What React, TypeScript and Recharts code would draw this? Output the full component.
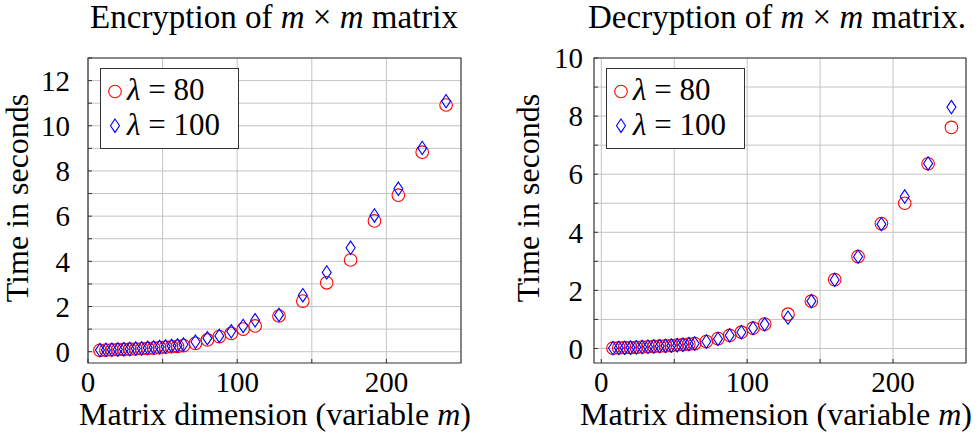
import { ScatterChart, Scatter, XAxis, YAxis, CartesianGrid, ReferenceArea, Legend } from "recharts";

// matrix dimension m
const mValues = [8, 12, 16, 20, 24, 28, 32, 36, 40, 44, 48, 52, 56, 60, 64, 72, 80, 88, 96, 104, 112, 128, 144, 160, 176, 192, 208, 224, 240];

// encryption time (s)
const encLambda80 = [0.06, 0.07, 0.08, 0.09, 0.1, 0.11, 0.12, 0.13, 0.15, 0.16, 0.18, 0.2, 0.22, 0.24, 0.27, 0.37, 0.52, 0.67, 0.81, 1.0, 1.14, 1.58, 2.24, 3.05, 4.06, 5.79, 6.93, 8.83, 10.92];
const encLambda100 = [0.07, 0.08, 0.09, 0.1, 0.11, 0.12, 0.14, 0.15, 0.17, 0.19, 0.21, 0.23, 0.26, 0.28, 0.32, 0.44, 0.6, 0.7, 0.9, 1.14, 1.39, 1.63, 2.5, 3.51, 4.6, 6.03, 7.21, 9.02, 11.09];

// decryption time (s)
const decLambda80 = [0.01, 0.02, 0.03, 0.03, 0.04, 0.05, 0.06, 0.07, 0.08, 0.09, 0.1, 0.12, 0.13, 0.15, 0.17, 0.24, 0.34, 0.45, 0.56, 0.7, 0.84, 1.18, 1.63, 2.37, 3.16, 4.3, 5.0, 6.36, 7.61];
const decLambda100 = [0.01, 0.02, 0.02, 0.03, 0.04, 0.05, 0.06, 0.07, 0.08, 0.09, 0.1, 0.11, 0.13, 0.15, 0.17, 0.24, 0.33, 0.45, 0.56, 0.7, 0.83, 1.06, 1.63, 2.36, 3.16, 4.28, 5.23, 6.37, 8.31];

const xTicks = [0, 50, 100, 150, 200];
const encYTicks = [0, 1, 2, 3, 4, 5, 6, 7, 8, 9, 10, 11, 12, 13];
const decYTicks = [0, 1, 2, 3, 4, 5, 6, 7, 8, 9, 10];

const FONT = "'Liberation Serif', 'Times New Roman', serif";
const RED = "#ff0000";
const BLUE = "#0000ff";
const FRAME = "#333";

const toPoints = (vals: number[]) => mValues.map((m, i) => ({ m, t: vals[i] }));

const CircleMark = (props: any) => {
  const { cx, cy } = props;
  if (cx == null || cy == null) return <g />;
  return <circle cx={cx} cy={cy} r={6.3} fill="none" stroke={RED} strokeWidth={1.1} />;
};

const DiamondMark = (props: any) => {
  const { cx, cy } = props;
  if (cx == null || cy == null) return <g />;
  return (
    <path
      d={`M${cx},${cy - 6.7}L${cx + 4.5},${cy}L${cx},${cy + 6.7}L${cx - 4.5},${cy}Z`}
      fill="none"
      stroke={BLUE}
      strokeWidth={1.1}
    />
  );
};

const LegendBox = () => (
  <div style={{ width: 137, height: 79, border: "1px solid #333", background: "#fff", position: "relative" }}>
    <svg width={137} height={79} style={{ position: "absolute", left: 0, top: 0 }}>
      <circle cx={14} cy={22.5} r={6.3} fill="none" stroke={RED} strokeWidth={1.1} />
      <path d="M14,50L18.5,56.7L14,63.4L9.5,56.7Z" fill="none" stroke={BLUE} strokeWidth={1.1} />
      <text x={26} y={31} fontFamily={FONT} fontSize={31} fill="#000">
        <tspan fontStyle="italic">λ</tspan> = 80
      </text>
      <text x={26} y={66} fontFamily={FONT} fontSize={31} fill="#000">
        <tspan fontStyle="italic">λ</tspan> = 100
      </text>
    </svg>
  </div>
);

const evenOnly = (v: number) => (v % 2 === 0 ? String(v) : "");
const hundredsOnly = (v: number) => (v % 100 === 0 ? String(v) : "");

function Panel({
  red,
  blue,
  xDomain,
  yDomain,
  yTicks,
  yAxisWidth,
  rightMargin,
  tickGap,
}: {
  red: number[];
  blue: number[];
  xDomain: [number, number];
  yDomain: [number, number];
  yTicks: number[];
  yAxisWidth: number;
  rightMargin: number;
  tickGap: number;
}) {
  return (
    <ScatterChart width={489} height={444} margin={{ top: 58, right: rightMargin, bottom: 51, left: 0 }}>
      <CartesianGrid stroke="#c4c4c4" strokeWidth={1} verticalValues={xTicks} horizontalValues={yTicks} />
      <XAxis
        type="number"
        dataKey="m"
        domain={xDomain}
        ticks={xTicks}
        allowDataOverflow
        height={30}
        axisLine={false}
        tickLine={{ stroke: FRAME }}
        tickSize={-4}
        tickMargin={12}
        tickFormatter={hundredsOnly}
        tick={{ fontFamily: FONT, fontSize: 29, fill: "#000" }}
      />
      <XAxis
        xAxisId="top"
        orientation="top"
        type="number"
        domain={xDomain}
        ticks={xTicks}
        allowDataOverflow
        height={0}
        axisLine={false}
        tickLine={{ stroke: FRAME }}
        tickSize={-4}
        tick={false}
      />
      <YAxis
        type="number"
        dataKey="t"
        domain={yDomain}
        ticks={yTicks}
        allowDataOverflow
        width={yAxisWidth}
        axisLine={false}
        tickLine={{ stroke: FRAME }}
        tickSize={-4}
        tickMargin={tickGap + 4}
        tickFormatter={evenOnly}
        tick={{ fontFamily: FONT, fontSize: 29, fill: "#000" }}
      />
      <YAxis
        yAxisId="right"
        orientation="right"
        type="number"
        domain={yDomain}
        ticks={yTicks}
        allowDataOverflow
        width={0}
        axisLine={false}
        tickLine={{ stroke: FRAME }}
        tickSize={-4}
        tick={false}
      />
      <ReferenceArea
        x1={xDomain[0]}
        x2={xDomain[1]}
        y1={yDomain[0]}
        y2={yDomain[1]}
        fill="none"
        stroke={FRAME}
        strokeWidth={1.2}
      />
      <Scatter data={toPoints(red)} shape={CircleMark} isAnimationActive={false} />
      <Scatter data={toPoints(blue)} shape={DiamondMark} isAnimationActive={false} />
      <Legend
        layout="vertical"
        align="center"
        verticalAlign="middle"
        content={() => <LegendBox />}
        wrapperStyle={{ left: yAxisWidth + 12, top: 68, width: 139 }}
      />
    </ScatterChart>
  );
}

export default function App() {
  return (
    <div style={{ position: "absolute", left: 0, top: 0, width: 978, height: 444, background: "#fff" }}>
      <div style={{ position: "absolute", left: 0, top: 0 }}>
        <Panel
          red={encLambda80}
          blue={encLambda100}
          xDomain={[0, 250]}
          yDomain={[-0.5, 13]}
          yTicks={encYTicks}
          yAxisWidth={88}
          rightMargin={28}
          tickGap={18}
        />
      </div>
      <div style={{ position: "absolute", left: 489, top: 0 }}>
        <Panel
          red={decLambda80}
          blue={decLambda100}
          xDomain={[-5, 250]}
          yDomain={[-0.5, 10]}
          yTicks={decYTicks}
          yAxisWidth={105}
          rightMargin={12}
          tickGap={11}
        />
      </div>
      <svg
        width={978}
        height={444}
        style={{ position: "absolute", left: 0, top: 0, pointerEvents: "none" }}
        fontFamily={FONT}
        fontSize={32}
      >
        <text x={274} y={28} textAnchor="middle" fontSize={33}>
          Encryption of <tspan fontStyle="italic">m</tspan> × <tspan fontStyle="italic">m</tspan> matrix
        </text>
        <text x={777} y={28} textAnchor="middle" fontSize={33}>
          Decryption of <tspan fontStyle="italic">m</tspan> × <tspan fontStyle="italic">m</tspan> matrix.
        </text>
        <text x={275} y={425} textAnchor="middle">
          Matrix dimension (variable <tspan fontStyle="italic">m</tspan>)
        </text>
        <text x={776} y={425} textAnchor="middle">
          Matrix dimension (variable <tspan fontStyle="italic">m</tspan>)
        </text>
        <text x={28} y={198} textAnchor="middle" transform="rotate(-90 28 198)">
          Time in seconds
        </text>
        <text x={539} y={198} textAnchor="middle" transform="rotate(-90 539 198)">
          Time in seconds
        </text>
      </svg>
    </div>
  );
}
